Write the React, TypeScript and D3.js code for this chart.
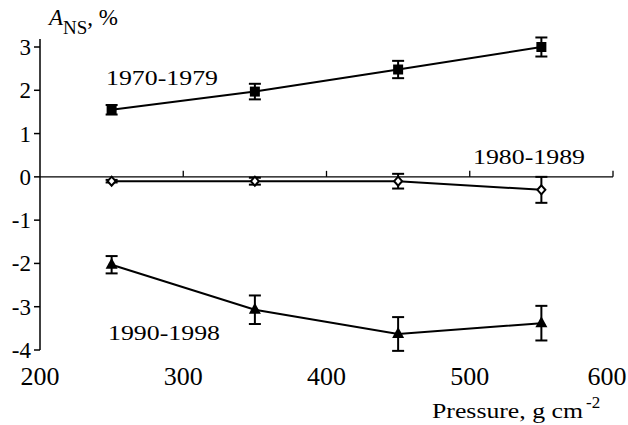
import React from "react";
import * as d3 from "d3";

const pressures = [250, 350, 450, 550];
const s1970 = [1.55, 1.97, 2.48, 3.0];
const e1970 = [0.11, 0.18, 0.2, 0.22];
const s1980 = [-0.1, -0.1, -0.1, -0.3];
const e1980 = [0.03, 0.08, 0.17, 0.3];
const s1990 = [-2.03, -3.07, -3.63, -3.38];
const e1990 = [0.2, 0.33, 0.39, 0.4];
const xTicks = [200, 300, 400, 500, 600];
const yTicks = [3, 2, 1, 0, -1, -2, -3, -4];
const seriesLabels = ["1970-1979", "1980-1989", "1990-1998"];

const W = 628, H = 425;
const x = d3.scaleLinear().domain([200, 600]).range([40, 613]);
const y = d3.scaleLinear().domain([-4, 3]).range([350, 47]);
const font = "'Liberation Serif', 'Times New Roman', serif";
const ts = (size: number): React.CSSProperties => ({ fontFamily: font, fontSize: size });

type Series = { vals: number[]; errs: number[]; marker: "square" | "diamond" | "triangle" };
const series: Series[] = [
  { vals: s1970, errs: e1970, marker: "square" },
  { vals: s1980, errs: e1980, marker: "diamond" },
  { vals: s1990, errs: e1990, marker: "triangle" },
];
const labelPos = [
  { x: 106, y: 85 },
  { x: 473, y: 164 },
  { x: 108, y: 340 },
];

function Marker({ kind, cx, cy }: { kind: string; cx: number; cy: number }) {
  if (kind === "square") return <rect x={cx - 5} y={cy - 5} width={10} height={10} fill="#000" />;
  if (kind === "diamond")
    return (
      <path
        d={`M${cx},${cy - 4.5}L${cx + 4},${cy}L${cx},${cy + 4.5}L${cx - 4},${cy}Z`}
        fill="#fff"
        stroke="#000"
        strokeWidth={2}
      />
    );
  return <path d={`M${cx},${cy - 7}L${cx + 6},${cy + 4}L${cx - 6},${cy + 4}Z`} fill="#000" />;
}

export default function App() {
  const line = d3
    .line<number>()
    .x((_, i) => x(pressures[i]))
    .y((d) => y(d));
  return (
    <svg width={W} height={H} style={{ position: "absolute", left: 0, top: 0, background: "#fff" }}>
      {/* y axis */}
      <line x1={40} x2={40} y1={39} y2={y(-4)} stroke="#000" strokeWidth={1.5} />
      {yTicks.map((t) => (
        <g key={t}>
          <line x1={34} x2={40} y1={y(t)} y2={y(t)} stroke="#000" strokeWidth={1.5} />
          <text x={31} y={y(t) + 8} textAnchor="end" style={ts(23)}>
            {t}
          </text>
        </g>
      ))}
      {/* x axis on zero line */}
      <line x1={40} x2={x(600)} y1={y(0)} y2={y(0)} stroke="#000" strokeWidth={1.3} />
      {xTicks.slice(1).map((t) => (
        <line key={t} x1={x(t)} x2={x(t)} y1={y(0) - 6} y2={y(0)} stroke="#000" strokeWidth={1.3} />
      ))}
      {xTicks.map((t) => (
        <text
          key={t}
          x={Math.min(x(t), W - 21)}
          y={385}
          textAnchor="middle"
          textLength={39}
          lengthAdjust="spacingAndGlyphs"
          style={ts(25)}
        >
          {t}
        </text>
      ))}
      {/* series */}
      {series.map((s, si) => (
        <g key={si}>
          <path d={line(s.vals) || ""} fill="none" stroke="#000" strokeWidth={2} />
          {s.vals.map((v, i) => {
            const cx = x(pressures[i]);
            const top = y(v + s.errs[i]);
            const bot = y(v - s.errs[i]);
            return (
              <g key={i}>
                <line x1={cx} x2={cx} y1={top} y2={bot} stroke="#000" strokeWidth={2} />
                <line x1={cx - 6} x2={cx + 6} y1={top} y2={top} stroke="#000" strokeWidth={2} />
                <line x1={cx - 6} x2={cx + 6} y1={bot} y2={bot} stroke="#000" strokeWidth={2} />
                <Marker kind={s.marker} cx={cx} cy={y(v)} />
              </g>
            );
          })}
        </g>
      ))}
      {/* labels */}
      {seriesLabels.map((lab, i) => (
        <text key={lab} x={labelPos[i].x} y={labelPos[i].y} textLength={112} lengthAdjust="spacingAndGlyphs" style={ts(22)}>
          {lab}
        </text>
      ))}
      <text x={49} y={25} style={ts(23)}>
        <tspan style={{ fontStyle: "italic" }}>A</tspan>
        <tspan style={{ fontSize: 19 }} dy={9}>NS</tspan>
        <tspan dy={-9}>, %</tspan>
      </text>
      <text x={432} y={418} style={ts(22)}>
        <tspan textLength={151} lengthAdjust="spacingAndGlyphs">Pressure, g cm</tspan>
        <tspan style={{ fontSize: 17 }} dx={3} dy={-10}>-2</tspan>
      </text>
    </svg>
  );
}
